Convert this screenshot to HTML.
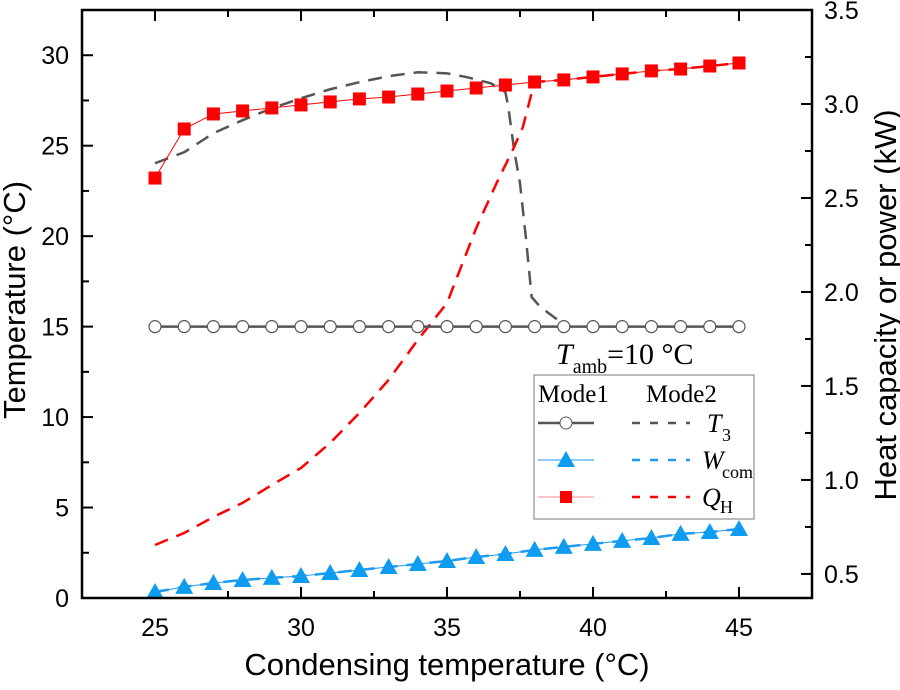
<!DOCTYPE html>
<html><head><meta charset="utf-8"><style>
body{margin:0;background:#fff}
.sans{font-family:"Liberation Sans",sans-serif}
.serif{font-family:"Liberation Serif",serif}
</style></head><body>
<svg id="chart" width="900" height="685" xmlns="http://www.w3.org/2000/svg"></svg>
<script>
const xVals=[25,26,27,28,29,30,31,32,33,34,35,36,37,38,39,40,41,42,43,44,45];
const t3Mode1=[15,15,15,15,15,15,15,15,15,15,15,15,15,15,15,15,15,15,15,15,15];
const wMode1=[0.404,0.431,0.452,0.468,0.479,0.489,0.505,0.521,0.537,0.553,0.569,0.590,0.606,0.628,0.644,0.660,0.676,0.691,0.713,0.723,0.739];
const qMode1=[2.606,2.867,2.947,2.963,2.979,2.995,3.011,3.027,3.037,3.053,3.069,3.085,3.101,3.117,3.128,3.144,3.160,3.176,3.186,3.202,3.218];
const t3Mode2X=[25,26,27,28,29,30,31,32,33,34,35,35.7,36.5,37,37.1,37.3,37.5,37.7,37.9,38.2,38.8,39];
const t3Mode2=[24.03,24.64,25.69,26.41,27.07,27.62,28.12,28.51,28.84,29.06,29.0,28.78,28.45,27.96,27.13,24.75,22.93,19.94,16.63,16.08,15.36,15.0];
const qMode2X=[25,26,27,28,29,30,31,32,33,34,35,36,36.7,37.25,37.6,37.95,38,39,40,41,42,43,44,45];
const qMode2=[0.654,0.718,0.803,0.878,0.973,1.064,1.197,1.356,1.532,1.745,1.941,2.340,2.58,2.755,2.878,3.09,3.117,3.128,3.144,3.160,3.176,3.186,3.202,3.218];
const xTicks=[25,30,35,40,45];
const yLTicks=[0,5,10,15,20,25,30];
const yRTicks=[0.5,1.0,1.5,2.0,2.5,3.0,3.5];

const L=82,R=812,T=10,B=598;
const X=v=>L+(v-22.5)/25*(R-L);
const YL=v=>B-(v/32.5)*(B-T);
const YR=v=>B-((v-0.372)/(3.5-0.372))*(B-T);
const svg=document.getElementById('chart');
const NS='http://www.w3.org/2000/svg';
function el(tag,attrs,parent){const e=document.createElementNS(NS,tag);for(const k in attrs)e.setAttribute(k,attrs[k]);(parent||svg).appendChild(e);return e;}

const tg=el('g',{});


for(let v=22.5;v<=47.5;v+=2.5){const x=X(v);const maj=(v%5===0);const len=maj?11:7;
 el('line',{x1:x,y1:B,x2:x,y2:B-len,stroke:'#000','stroke-width':2},tg);
 el('line',{x1:x,y1:T,x2:x,y2:T+len,stroke:'#000','stroke-width':2},tg);}
for(let v=0;v<=32.5;v+=2.5){const y=YL(v);const len=(v%5===0)?11:7;el('line',{x1:L,y1:y,x2:L+len,y2:y,stroke:'#000','stroke-width':2},tg);}
for(let v=0.5;v<=3.5001;v+=0.25){const y=YR(v);const len=(Math.abs(v*2-Math.round(v*2))<0.01)?11:7;el('line',{x1:R,y1:y,x2:R-len,y2:y,stroke:'#000','stroke-width':2},tg);}
xTicks.forEach(v=>{const t=el('text',{x:X(v),y:B+38,'font-size':25,'text-anchor':'middle',class:'sans'});t.textContent=v;

});
yLTicks.forEach(v=>{const t=el('text',{x:L-13,y:YL(v)+9,'font-size':25,'text-anchor':'end',class:'sans'});t.textContent=v;

});
yRTicks.forEach(v=>{const t=el('text',{x:R+12,y:YR(v)+9,'font-size':25,class:'sans'});t.textContent=v.toFixed(1);

});

function path(xs,ys,fy,attrs,name){const d=xs.map((x,i)=>(i?'L':'M')+X(x)+','+fy(ys[i])).join(' ');const p=el('path',Object.assign({d:d,fill:'none'},attrs));

return p;}

path(t3Mode2X,t3Mode2,YL,{stroke:'#555','stroke-width':2.5,'stroke-dasharray':'14,9'},'t3-mode2-line');
path(qMode2X,qMode2,YR,{stroke:'#f00','stroke-width':2.5,'stroke-dasharray':'14,9'},'qh-mode2-line');
path(xVals,wMode1,YR,{stroke:'#1e9af0','stroke-width':2.5,'stroke-dasharray':'14,9'},'wcom-mode2-line');
path(xVals,t3Mode1,YL,{stroke:'#555','stroke-width':2.5},'t3-mode1-line');
xVals.forEach((x,i)=>{const c=el('circle',{cx:X(x),cy:YL(t3Mode1[i]),r:6,fill:'#fff',stroke:'#555','stroke-width':1.2});

});
path(xVals,wMode1,YR,{stroke:'#1e9af0','stroke-width':1},'wcom-mode1-line');
xVals.forEach((x,i)=>{const cx=X(x),cy=YR(wMode1[i]);const p=el('polygon',{points:`${cx},${cy-9} ${cx-9},${cy+7} ${cx+9},${cy+7}`,fill:'#0d9cf0'});

});
path(xVals,qMode1,YR,{stroke:'#f00','stroke-width':1},'qh-mode1-line');
xVals.forEach((x,i)=>{const r=el('rect',{x:X(x)-6.5,y:YR(qMode1[i])-6.5,width:13,height:13,fill:'#f00'});

});

const f=el('rect',{x:L,y:T,width:R-L,height:B-T,fill:'none',stroke:'#000','stroke-width':2.5});


</script>
<svg style="position:absolute;left:0;top:0" width="900" height="685" xmlns="http://www.w3.org/2000/svg">
<text class="sans" x="447" y="675" font-size="31" text-anchor="middle">Condensing temperature (°C)</text>
<text class="sans" transform="translate(25,300) rotate(-90)" font-size="31" text-anchor="middle">Temperature (°C)</text>
<text class="sans" transform="translate(896,305) rotate(-90)" font-size="31" text-anchor="middle">Heat capacity or power (kW)</text>
<text class="serif" x="556" y="364" font-size="30"><tspan font-style="italic">T</tspan><tspan font-size="20" dy="9">amb</tspan><tspan dy="-9">=10 °C</tspan></text>
<g class="serif">
<rect x="534" y="375" width="220" height="144" fill="#fff" stroke="#777" stroke-width="1"/>
<text class="serif" x="538" y="402" font-size="25">Mode1</text>
<text class="serif" x="646" y="402" font-size="25">Mode2</text>
<g>
<line x1="538" y1="423" x2="594" y2="423" stroke="#555" stroke-width="2.5"/><circle cx="566" cy="423" r="6" fill="#fff" stroke="#555"/>
<line x1="632" y1="423" x2="690" y2="423" stroke="#555" stroke-width="2.5" stroke-dasharray="8,10"/>
<text class="serif" x="707" y="432" font-size="26" font-style="italic">T</text><text class="serif" x="722" y="441" font-size="18">3</text></g>
<g>
<line x1="538" y1="460" x2="594" y2="460" stroke="#1e9af0" stroke-width="1"/><polygon points="566,451 557,467 575,467" fill="#0d9cf0"/>
<line x1="632" y1="460" x2="690" y2="460" stroke="#1e9af0" stroke-width="2.5" stroke-dasharray="8,10"/>
<text class="serif" x="702" y="469" font-size="26" font-style="italic">W</text><text class="serif" x="722" y="478" font-size="18">com</text></g>
<g>
<line x1="538" y1="497" x2="594" y2="497" stroke="#f88" stroke-width="1"/><rect x="560" y="491" width="12" height="12" fill="#f00"/>
<line x1="632" y1="497" x2="690" y2="497" stroke="#f00" stroke-width="2.5" stroke-dasharray="8,10"/>
<text class="serif" x="702" y="506" font-size="26" font-style="italic">Q</text><text class="serif" x="720" y="513" font-size="18">H</text></g>
</g>
</svg>
</body></html>
